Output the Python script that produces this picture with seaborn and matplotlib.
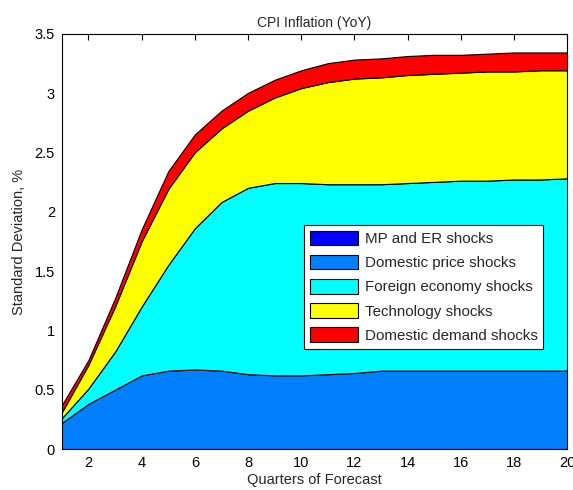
import numpy as np
import matplotlib
matplotlib.use("Agg")
import matplotlib.pyplot as plt
import seaborn as sns

quarters = list(range(1, 21))
mp_er = [0.003] * 20
domestic_price = [0.22, 0.38, 0.50, 0.62, 0.66, 0.67, 0.66, 0.63, 0.62, 0.62,
                  0.63, 0.64, 0.66, 0.66, 0.66, 0.66, 0.66, 0.66, 0.66, 0.66]
foreign_economy = [0.04, 0.13, 0.32, 0.58, 0.89, 1.19, 1.42, 1.57, 1.62, 1.62,
                   1.60, 1.59, 1.57, 1.58, 1.59, 1.60, 1.60, 1.61, 1.61, 1.62]
technology = [0.05, 0.20, 0.38, 0.55, 0.64, 0.64, 0.62, 0.65, 0.72, 0.80,
              0.86, 0.89, 0.90, 0.91, 0.91, 0.91, 0.92, 0.91, 0.92, 0.91]
domestic_demand = [0.06, 0.04, 0.07, 0.10, 0.15, 0.15, 0.15, 0.15, 0.15, 0.15,
                   0.16, 0.16, 0.16, 0.16, 0.16, 0.15, 0.15, 0.16, 0.15, 0.15]
labels = ["MP and ER shocks", "Domestic price shocks", "Foreign economy shocks",
          "Technology shocks", "Domestic demand shocks"]
colors = ["#0000FF", "#0080FF", "#00FFFF", "#FFFF00", "#FF0000"]
xticks = list(range(2, 21, 2))
yticks = [0, 0.5, 1, 1.5, 2, 2.5, 3, 3.5]
ytick_labels = ["0", "0.5", "1", "1.5", "2", "2.5", "3", "3.5"]

sns.set_style("white")
plt.rcParams['font.family'] = ['Liberation Sans', 'DejaVu Sans']

fig = plt.figure(figsize=(5.73, 4.9), dpi=100)
ax = fig.add_axes([0.108, 0.083, 0.882, 0.848])

polys = ax.stackplot(quarters, mp_er, domestic_price, foreign_economy, technology,
                     domestic_demand, colors=colors, labels=labels,
                     edgecolor="black", linewidth=0.8)

ax.set_xlim(1, 20)
ax.set_ylim(0, 3.5)
ax.set_xticks(xticks)
ax.set_xticklabels([str(t) for t in xticks])
ax.set_yticks(yticks)
ax.set_yticklabels(ytick_labels)
ax.tick_params(direction="in", top=True, right=True, length=4, width=0.8,
               labelsize=10.5, colors="black", pad=5)
for s in ax.spines.values():
    s.set_visible(True)
    s.set_color("black")
    s.set_linewidth(0.8)

ax.set_title("CPI Inflation (YoY)", fontsize=10, pad=5)
ax.set_xlabel("Quarters of Forecast", fontsize=10.5, labelpad=2)
ax.set_ylabel("Standard Deviation, %", fontsize=10.5, labelpad=6)

leg = ax.legend(loc="upper left", bbox_to_anchor=(0.479, 0.541), fontsize=10.9,
                frameon=True, fancybox=False, framealpha=1, edgecolor="black",
                handlelength=3.2, handleheight=1.1, labelspacing=0.58,
                borderpad=0.4, handletextpad=0.4, borderaxespad=0)
leg.get_frame().set_linewidth(0.8)

fig.savefig("out.png", dpi=100, facecolor="white")
